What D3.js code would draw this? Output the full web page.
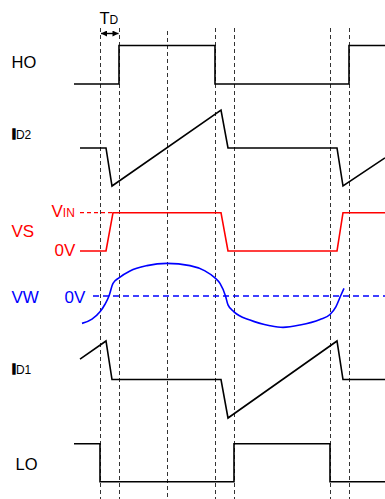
<!DOCTYPE html>
<html><head><meta charset="utf-8">
<script src="https://cdn.jsdelivr.net/npm/d3@7"></script>
<style>html,body{margin:0;padding:0;background:#fff}svg{display:block}</style>
</head><body>
<svg id="c" width="385" height="499"></svg>
<script>
// ---- data (time in arbitrary units; levels normalised) ----
const markerTimes = [100, 119, 167, 215, 234, 330, 349];
const hoT = [74, 119, 119, 215, 215, 349, 349, 385];
const hoV = [0, 0, 1, 1, 0, 0, 1, 1];
const id2T = [80, 106, 112, 221, 228, 337, 343, 385];
const id2V = [0, 0, -1, 1, 0, 0, -1, -0.26];
const vsT = [80, 106, 113, 221, 228, 337, 343, 385];
const vsV = [0, 0, 1, 1, 0, 0, 1, 1];
const vwT = [82, 92, 100, 105, 109, 113, 119, 130, 147, 167, 190, 205, 215, 220, 225.5, 228, 234, 250, 270, 283, 300, 320, 330, 336, 341, 344];
const vwV = [-0.83, -0.70, -0.48, -0.25, 0, 0.38, 0.55, 0.76, 0.92, 0.99, 0.92, 0.76, 0.55, 0.38, 0, -0.27, -0.48, -0.73, -0.9, -0.95, -0.88, -0.71, -0.56, -0.32, 0.03, 0.23];
const id1T = [80, 106, 112, 221, 228, 337, 343, 385];
const id1V = [0.53, 1, 0, 0, -1, 1, 0, 0];
const loT = [74, 100, 100, 234, 234, 330, 330, 385];
const loV = [1, 1, 0, 0, 1, 1, 0, 0];
const vsRefT = [80, 113];   // dashed VIN reference
const vwRefT = [93, 385];   // dashed 0V reference

const svg = d3.select("#c");
const x = d3.scaleLinear().domain([0, 385]).range([0, 385]);
const yHO = d3.scaleLinear().domain([0, 1]).range([84, 45.5]);
const yID2 = d3.scaleLinear().domain([-1, 1]).range([186, 110]);
const yVS = d3.scaleLinear().domain([0, 1]).range([251, 212.7]);
const yVW = d3.scaleLinear().domain([-1, 1]).range([329, 263]);
const yID1 = d3.scaleLinear().domain([-1, 1]).range([418, 341]);
const yLO = d3.scaleLinear().domain([0, 1]).range([481.7, 443.7]);

const font = "'Liberation Sans', Arial, sans-serif";

// vertical dashed markers
svg.selectAll("line.mk").data(markerTimes).join("line")
  .attr("x1", d => x(d) + 0.5).attr("x2", d => x(d) + 0.5)
  .attr("y1", d => d === 167 ? 31 : 28).attr("y2", 499)
  .attr("stroke", "#333").attr("stroke-width", 1).attr("stroke-dasharray", "4,3");

function trace(T, V, y, color, curve) {
  const pts = T.map((t, i) => [x(t), y(V[i])]);
  svg.append("path").attr("d", d3.line().curve(curve || d3.curveLinear)(pts))
    .attr("fill", "none").attr("stroke", color).attr("stroke-width", 1.6)
    .attr("stroke-linejoin", "miter");
}

trace(hoT, hoV, yHO, "#000");
trace(id2T, id2V, yID2, "#000");
svg.append("line").attr("x1", x(vsRefT[0])).attr("x2", x(vsRefT[1]))
  .attr("y1", yVS(1)).attr("y2", yVS(1)).attr("stroke", "#ff0000").attr("stroke-width", 1.2).attr("stroke-dasharray", "4,3");
trace(vsT, vsV, yVS, "#ff0000");
svg.append("line").attr("x1", x(vwRefT[0])).attr("x2", x(vwRefT[1]))
  .attr("y1", yVW(0)).attr("y2", yVW(0)).attr("stroke", "#0000ff").attr("stroke-width", 1.6).attr("stroke-dasharray", "6,4");
trace(vwT, vwV, yVW, "#0000ff", d3.curveMonotoneX);
trace(id1T, id1V, yID1, "#000");
trace(loT, loV, yLO, "#000");

// TD arrow
const defs = svg.append("defs");
defs.append("marker").attr("id", "ah").attr("viewBox", "0 0 10 10").attr("refX", 10).attr("refY", 5)
  .attr("markerWidth", 7).attr("markerHeight", 6).attr("markerUnits", "userSpaceOnUse").attr("orient", "auto-start-reverse")
  .append("path").attr("d", "M0,0 L10,5 L0,10 z").attr("fill", "#000");
svg.append("line").attr("x1", x(100) + 1).attr("x2", x(119) - 0.5).attr("y1", 33.5).attr("y2", 33.5)
  .attr("stroke", "#000").attr("stroke-width", 1.4)
  .attr("marker-start", "url(#ah)").attr("marker-end", "url(#ah)");

// labels
function label(parts, lx, ly, color) {
  const t = svg.append("text").attr("x", lx).attr("y", ly).attr("fill", color).attr("font-family", font);
  parts.forEach(p => {
    const s = t.append("tspan").text(p.s).attr("font-size", p.fs);
    if (p.fw) s.attr("font-weight", p.fw);
    if (p.stroke) s.attr("stroke", color).attr("stroke-width", p.stroke);
  });
}
label([{s: "T", fs: 16.5}, {s: "D", fs: 12}], 99.5, 24, "#000");
label([{s: "HO", fs: 16.5}], 11.5, 67.5, "#000");
label([{s: "I", fs: 14, fw: "bold", stroke: 1.3}, {s: "D2", fs: 12}], 12, 139, "#000");
label([{s: "VS", fs: 17}], 11.5, 237.3, "#ff0000");
label([{s: "V", fs: 17}, {s: "IN", fs: 12}], 51.5, 217.3, "#ff0000");
label([{s: "0V", fs: 17}], 54.5, 256.2, "#ff0000");
label([{s: "VW", fs: 17}], 11.5, 303.3, "#0000ff");
label([{s: "0V", fs: 17}], 64.5, 303.3, "#0000ff");
label([{s: "I", fs: 14, fw: "bold", stroke: 1.3}, {s: "D1", fs: 12}], 12, 373.5, "#000");
label([{s: "LO", fs: 16.5}], 15.5, 470, "#000");
</script>
</body></html>
